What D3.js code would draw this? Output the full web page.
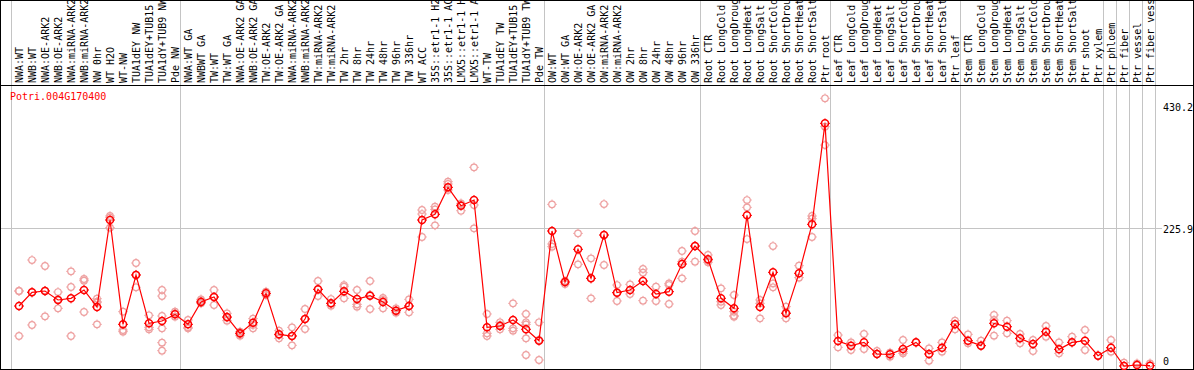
<!DOCTYPE html>
<html>
<head>
<meta charset="utf-8">
<script src="https://cdn.jsdelivr.net/npm/d3@7"></script>
<style>
  body { margin: 0; background: #fff; }
  text { font-family: "DejaVu Sans Mono", monospace; font-size: 10px; }
</style>
</head>
<body>
<div id="chart"></div>
<script>
// sample labels, left to right
var conditions = [
  "NWA:WT","NWB:WT","NWA:OE-ARK2","NWB:OE-ARK2","NWA:miRNA-ARK2","NWB:miRNA-ARK2","NW 0hr","WT H2O","WT-NW","TUA1dEY NW","TUA1dEY+TUB15","TUA1dY+TUB9 NW","Pde NW",
  "NWA:WT GA","NWBWT GA","TW:WT","TW:WT GA","NWA:OE-ARK2 GA","NWB:OE-ARK2 GA","TW:OE-ARK2","TW:OE-ARK2 GA","NWA:miRNA-ARK2","NWB:miRNA-ARK2","TW:miRNA-ARK2","TW:miRNA-ARK2",
  "TW 2hr","TW 8hr","TW 24hr","TW 48hr","TW 96hr","TW 336hr","WT ACC","35S::etr1-1 H2O","35S::etr1-1 ACC","LMX5::etr1-1 H2O","LMX5::etr1-1 ACC","WT-TW","TUA1dEY TW","TUA1dEY+TUB15","TUA1dY+TUB9 TW","Pde TW",
  "OW:WT","OW:WT GA","OW:OE-ARK2","OW:OE-ARK2 GA","OW:miRNA-ARK2","OW:miRNA-ARK2","OW 2hr","OW 8hr","OW 24hr","OW 48hr","OW 96hr","OW 336hr",
  "Root CTR","Root LongCold","Root LongDrought","Root LongHeat","Root LongSalt","Root ShortCold","Root ShortDrought","Root ShortHeat","Root ShortSalt","Ptr root",
  "Leaf CTR","Leaf LongCold","Leaf LongDrought","Leaf LongHeat","Leaf LongSalt","Leaf ShortCold","Leaf ShortDrought","Leaf ShortHeat","Leaf ShortSalt","Ptr leaf",
  "Stem CTR","Stem LongCold","Stem LongDrought","Stem LongHeat","Stem LongSalt","Stem ShortCold","Stem ShortDrought","Stem ShortHeat","Stem ShortSalt","Ptr shoot","Ptr xylem",
  "Ptr phloem","Ptr fiber","Ptr vessel","Ptr fiber vessel"
];

// index where each experiment group begins (last one = end)
var groupStarts = [0, 13, 41, 53, 63, 73, 84, 85, 86, 87, 88];

var geneName = "Potri.004G170400";

// mean expression per sample
var meanExpr = [
  103.7,125.2,127.3,113.2,115.8,128.9,102.2,238.9,74.9,152.4,76.5,80.2,90.6,
  74.9,110.0,117.9,86.4,60.8,77.5,123.6,59.2,56.6,83.3,129.9,107.9,
  126.8,114.7,120.0,110.0,96.4,103.7,238.9,247.8,290.2,261.4,270.3,70.2,72.3,81.7,67.1,49.2,
  221.6,141.4,192.8,147.2,215.3,124.7,128.9,143.0,122.6,126.3,169.7,198.0,
  177.1,115.8,100.1,246.2,102.2,156.6,92.2,155.1,232.1,390.8,
  48.7,41.4,46.6,28.3,27.8,36.1,46.6,28.3,38.2,74.9,
  49.2,41.4,76.5,71.2,52.9,44.0,63.4,35.6,46.6,49.2,25.7,
  38.2,9.4,11.0,10.0
];

// individual replicates per sample
var replicates = [
  [127.3,127.3,56.6],[176.0,125.7,73.9],[166.6,127.8,87.5],[125.7,100.1,113.7],[158.2,133.6,56.6],
  [146.2,143.5,94.3],[115.2,110.5,109.0,74.9],[245.2,242.5,226.8],[94.8,66.0,63.4],[171.3,133.1,153.0],
  [89.1,70.2,67.1],[128.9,119.4,88.0,68.6,46.1,33.5],[94.8,92.2,87.0],
  [81.7,70.2,68.6],[114.2,111.6,107.9],[128.9,117.9,105.3],[92.2,85.4,80.7],[63.4,59.7,57.1],
  [83.8,73.9,68.6],[126.3,121.0],[65.0,58.1,52.9],[70.2,56.6,41.9],[99.0,67.6,83.3],
  [143.0,119.4,129.9],[114.7,104.2,107.9],[136.7,134.1,115.8],[128.9,106.3,102.7],[143.0,121.0,99.0],
  [116.3,113.2,100.1],[100.1,96.4,93.2],[114.2,103.7,93.8],[254.6,248.3,212.2],[259.8,255.6,230.5],
  [299.1,295.5,286.0],[265.1,262.5,253.5],[321.7,262.5,225.8],[91.2,60.8,56.6],[78.1,73.9,67.1],
  [107.9,68.6,65.0],[91.2,78.1,74.9,52.9,26.7],[78.1,18.9,50.3],
  [263.5,201.2,197.0],[143.0,138.3],[217.9,169.2],[178.6,115.8,147.2],[264.0,168.2,215.3],
  [136.7,111.6,124.7],[137.8,122.6],[161.9,156.1,112.1],[134.1,111.6],[139.3,136.7,106.9],
  [190.2,173.4,147.2],[221.6,173.4,198.0],
  [183.9,175.0,172.4],[131.5,110.5,105.3],[121.0,94.8,88.5,87.0],[270.3,258.8,209.0],[113.2,107.9,84.3],
  [198.0,139.3,133.1],[102.7,93.8,84.3],[167.1,148.3],[245.2,241.0,212.2],[430.2,385.6,356.7],
  [58.1,38.8],[46.6,34.6],[59.7,36.1],[33.0,28.3],[30.4,24.1],[50.3,32.0,29.3],[46.6],[37.2,17.8],
  [46.6,32.0],[80.7,67.1],
  [59.2,45.1],[49.2,41.4],[89.6,81.7,57.1],[80.7,60.8],[59.7,45.1],[50.3,33.0],[72.3,55.5],
  [46.6,29.3],[55.5,46.6],[66.0,34.6],[25.7],
  [50.3,32.0],[14.7],[13.6],[13.6]
];

var yTicks = [0, 225.9, 430.2];

var width = 1194, height = 370,
  headerBottom = 85,
  plotBottom = 369,
  rightEdge = 1193;

var svg = d3.select('#chart')
  .append('svg')
  .attr('width', width)
  .attr('height', height)
  .style('display', 'block');

var x = d3.scaleLinear()
  .domain([0, conditions.length - 1])
  .range([19, 19 + 13 * (conditions.length - 1)]);

var y = d3.scaleLinear()
  .domain([0, 430.2])
  .range([372, 98.3]);

// group separators (full height, gray)
svg.selectAll('line.sep')
  .data(groupStarts)
  .enter().append('line')
  .attr('class', 'sep')
  .attr('x1', function(d) { return Math.round(x(d) - 8) + 0.5; })
  .attr('x2', function(d) { return Math.round(x(d) - 8) + 0.5; })
  .attr('y1', 0)
  .attr('y2', plotBottom)
  .style('stroke', '#c4c4c4')
  .style('stroke-width', 1);

// horizontal gridline for the middle tick
svg.selectAll('line.grid')
  .data(yTicks.filter(function(d) { return d > 0 && d < 430.2; }))
  .enter().append('line')
  .attr('class', 'grid')
  .attr('x1', 1)
  .attr('x2', 1162)
  .attr('y1', function(d) { return Math.round(y(d)) + 0.5; })
  .attr('y2', function(d) { return Math.round(y(d)) + 0.5; })
  .style('stroke', '#c4c4c4')
  .style('stroke-width', 1);

// outer frame + header line
var frame = svg.append('g').style('stroke', '#000').style('stroke-width', 1);
frame.append('line').attr('x1', 0).attr('x2', rightEdge + 1).attr('y1', 0.5).attr('y2', 0.5);
frame.append('line').attr('x1', 0).attr('x2', rightEdge + 1).attr('y1', headerBottom + 0.5).attr('y2', headerBottom + 0.5);
frame.append('line').attr('x1', 0).attr('x2', rightEdge + 1).attr('y1', plotBottom + 0.5).attr('y2', plotBottom + 0.5);
frame.append('line').attr('x1', 0.5).attr('x2', 0.5).attr('y1', 0).attr('y2', plotBottom + 1);
frame.append('line').attr('x1', rightEdge + 0.5).attr('x2', rightEdge + 0.5).attr('y1', 0).attr('y2', plotBottom + 1);

// rotated sample labels in the header
svg.append('g')
  .selectAll('text')
  .data(conditions)
  .enter().append('text')
  .attr('transform', function(d, i) {
    return 'translate(' + (x(i) + 3.5) + ',' + (headerBottom - 2) + ') rotate(-90)';
  })
  .attr('fill', '#000')
  .text(function(d) { return d; });

// gene name
svg.append('text')
  .attr('x', 10)
  .attr('y', 100)
  .attr('fill', '#ff0000')
  .text(geneName);

// y tick labels on the right
svg.selectAll('text.ytick')
  .data(yTicks)
  .enter().append('text')
  .attr('class', 'ytick')
  .attr('x', 1163)
  .attr('y', function(d) {
    return Math.max(111, Math.min(365, y(d) + 4.3));
  })
  .attr('fill', '#000')
  .text(function(d) { return d; });

// replicate points
var reps = [];
replicates.forEach(function(arr, i) {
  arr.forEach(function(v) { reps.push({ i: i, v: v }); });
});

function marker(g, r, color, sw) {
  g.append('circle')
    .attr('r', r)
    .style('fill', 'none')
    .style('stroke', color)
    .style('stroke-width', sw);
  g.append('path')
    .attr('d', 'M0,' + (-r - 1.5) + 'V' + (-r) + 'M0,' + (r) + 'V' + (r + 1.5) +
      'M' + (-r - 1.5) + ',0H' + (-r) + 'M' + r + ',0H' + (r + 1.5))
    .style('stroke', color)
    .style('stroke-width', 1);
}

svg.append('g')
  .selectAll('g')
  .data(reps)
  .enter().append('g')
  .attr('transform', function(d) { return 'translate(' + x(d.i) + ',' + y(d.v) + ')'; })
  .each(function() { marker(d3.select(this), 3.3, '#eea0a0', 1.2); });

// mean line
var line = d3.line()
  .x(function(d, i) { return x(i); })
  .y(function(d) { return y(d); });

svg.append('path')
  .datum(meanExpr)
  .attr('d', line)
  .style('fill', 'none')
  .style('stroke', '#ff0000')
  .style('stroke-width', 1.2);

// mean markers
svg.append('g')
  .selectAll('g')
  .data(meanExpr)
  .enter().append('g')
  .attr('transform', function(d, i) { return 'translate(' + x(i) + ',' + y(d) + ')'; })
  .each(function() { marker(d3.select(this), 3.5, '#ff0000', 1.5); });
</script>
</body>
</html>
